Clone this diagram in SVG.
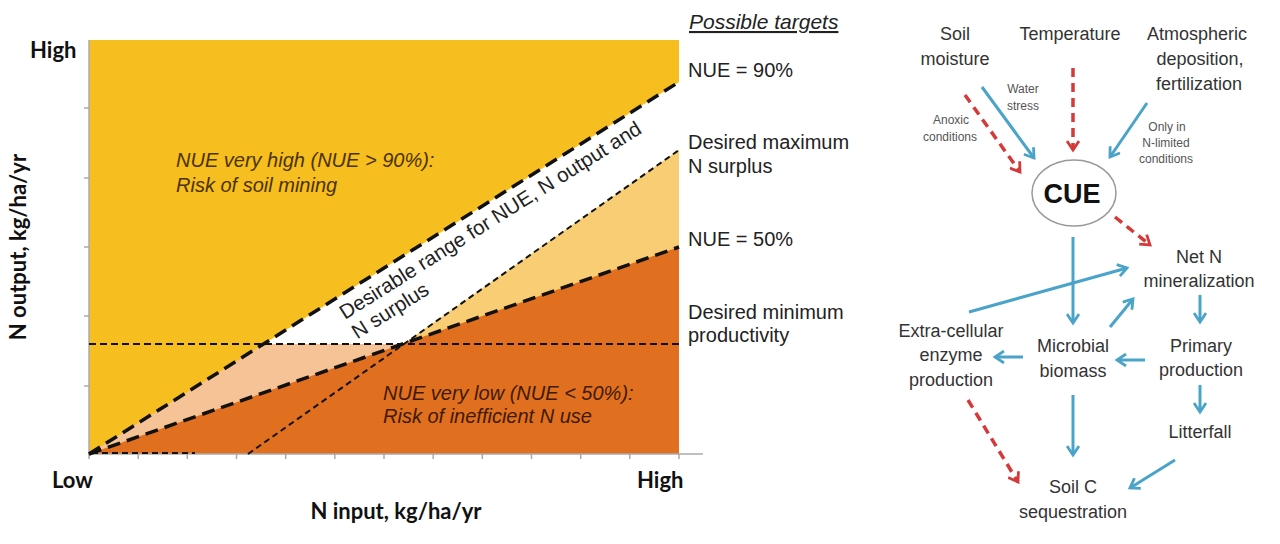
<svg xmlns="http://www.w3.org/2000/svg" width="1280" height="544" viewBox="0 0 1280 544">
<defs>
<style>
.ax{font-family:Lato,"Liberation Sans",sans-serif;font-weight:bold;font-size:22px;fill:#111}
.lab{font-family:"Liberation Sans",Arial,sans-serif;font-size:20px;fill:#222}
.zone{font-family:"Liberation Sans",Arial,sans-serif;font-size:20px;font-style:italic}
.nd{font-family:"Liberation Sans",Arial,sans-serif;font-size:18px;fill:#333;text-anchor:middle}
.sm{font-family:"Liberation Sans",Arial,sans-serif;font-size:12px;fill:#555;text-anchor:middle}
.thick{fill:none;stroke:#111;stroke-width:3.5;stroke-dasharray:13 7}
.thin{fill:none;stroke:#111;stroke-width:2;stroke-dasharray:6 4}
.blue{fill:none;stroke:#4aa3c8;stroke-width:3;marker-end:url(#ab)}
.red{fill:none;stroke:#d43a3a;stroke-width:3.5;stroke-dasharray:9 6;marker-end:url(#ar)}
.axis{stroke:#aaa;stroke-width:1.5;fill:none}
</style>
<marker id="ab" viewBox="0 0 14 14" refX="11" refY="7" markerWidth="14" markerHeight="14" markerUnits="userSpaceOnUse" orient="auto"><path d="M2,1 L11,7 L2,13" fill="none" stroke="#4aa3c8" stroke-width="2.8"/></marker>
<marker id="ar" viewBox="0 0 14 14" refX="11" refY="7" markerWidth="14" markerHeight="14" markerUnits="userSpaceOnUse" orient="auto"><path d="M2,1 L11,7 L2,13" fill="none" stroke="#d43a3a" stroke-width="2.8"/></marker>
</defs>
<rect width="1280" height="544" fill="#ffffff"/>

<g id="chart">
<rect x="89" y="40" width="590" height="414" fill="#f6be1e"/>
<polygon points="264,344 679,82 679,150 404,344" fill="#ffffff"/>
<polygon points="89,454 264,344 404,344" fill="#f5c396"/>
<polygon points="403,344 679,150 679,247" fill="#f8cd73"/>
<polygon points="89,454 679,247 679,454" fill="#e07020"/>
<g id="axes">
<path class="axis" d="M89,40 V454 H703"/>
<path class="axis" d="M84,108 H89 M84,178 H89 M84,247 H89 M84,316 H89 M84,386 H89"/>
<path class="axis" d="M89,454 v5 M138.2,454 v5 M187.3,454 v5 M236.5,454 v5 M285.7,454 v5 M334.8,454 v5 M384,454 v5 M433.2,454 v5 M482.3,454 v5 M531.5,454 v5 M580.7,454 v5 M629.8,454 v5 M679,454 v5"/>
</g>
<g id="lines">
<line class="thin" x1="248" y1="454" x2="679" y2="150"/>
<line class="thin" x1="89" y1="344" x2="679" y2="344" style="stroke-width:2.2;stroke-dasharray:7 4"/>
<line class="thin" x1="92" y1="453" x2="195" y2="453"/>
<line class="thick" x1="89" y1="454" x2="679" y2="82"/>
<line class="thick" x1="89" y1="454" x2="679" y2="247"/>
</g>
<text class="zone" x="176" y="167" fill="#4a3300">NUE very high (NUE &gt; 90%):</text>
<text class="zone" x="176" y="192" fill="#4a3300">Risk of soil mining</text>
<text class="zone" x="383" y="400" fill="#3f1a00">NUE very low (NUE &lt; 50%):</text>
<text class="zone" x="383" y="423" fill="#3f1a00">Risk of inefficient N use</text>
<g transform="translate(345,320) rotate(-32.2)">
<text class="lab" x="0" y="0" style="font-size:20.5px">Desirable range for NUE, N output and</text>
<text class="lab" x="0" y="23" style="font-size:20.5px">N surplus</text>
</g>
<text class="ax" x="30" y="58">High</text>
<text class="ax" x="52" y="488">Low</text>
<text class="ax" x="637" y="488">High</text>
<text class="ax" x="396" y="519" text-anchor="middle">N input, kg/ha/yr</text>
<text class="ax" transform="translate(26,247) rotate(-90)" text-anchor="middle">N output, kg/ha/yr</text>
<text class="lab" x="689" y="29" style="font-style:italic;font-size:21px;text-decoration:underline">Possible targets</text>
<text class="lab" x="688" y="77">NUE = 90%</text>
<text class="lab" x="688" y="149">Desired maximum</text>
<text class="lab" x="688" y="173">N surplus</text>
<text class="lab" x="688" y="246">NUE = 50%</text>
<text class="lab" x="688" y="319">Desired minimum</text>
<text class="lab" x="688" y="342">productivity</text>
</g>

<g id="connectors">
<line class="blue" x1="982" y1="87" x2="1034" y2="158"/>
<line class="red" x1="965" y1="95" x2="1020" y2="172"/>
<line class="red" x1="1073" y1="68" x2="1073" y2="150"/>
<line class="blue" x1="1147" y1="103" x2="1110" y2="157"/>
<line class="red" x1="1115" y1="217" x2="1150" y2="245"/>
<line class="blue" x1="1073" y1="237" x2="1073" y2="323"/>
<line class="blue" x1="969" y1="312" x2="1127" y2="268"/>
<line class="blue" x1="1110" y1="327" x2="1133" y2="299"/>
<line class="blue" x1="1200" y1="295" x2="1200" y2="322"/>
<line class="blue" x1="1145" y1="360" x2="1117" y2="360"/>
<line class="blue" x1="1023" y1="357" x2="995" y2="357"/>
<line class="blue" x1="1200" y1="385" x2="1200" y2="412"/>
<line class="blue" x1="1073" y1="395" x2="1073" y2="455"/>
<line class="blue" x1="1175" y1="460" x2="1130" y2="488"/>
<line class="red" x1="968" y1="400" x2="1018" y2="482"/>
<text class="sm" x="1023" y="93">Water</text>
<text class="sm" x="1023" y="110">stress</text>
<text class="sm" x="951" y="124">Anoxic</text>
<text class="sm" x="950" y="141">conditions</text>
<text class="sm" x="1167" y="131">Only in</text>
<text class="sm" x="1166" y="147">N-limited</text>
<text class="sm" x="1166" y="163">conditions</text>
</g>

<g id="soil-moisture"><text class="nd" x="955" y="40">Soil</text><text class="nd" x="955" y="65">moisture</text></g>
<g id="temperature"><text class="nd" x="1070" y="40">Temperature</text></g>
<g id="atmospheric"><text class="nd" x="1197" y="40">Atmospheric</text><text class="nd" x="1200" y="65">deposition,</text><text class="nd" x="1199" y="90">fertilization</text></g>
<g id="cue"><ellipse cx="1074" cy="193" rx="42" ry="33" fill="#fff" stroke="#999" stroke-width="1.5"/><text x="1072" y="203" text-anchor="middle" style="font-family:'Liberation Sans',Arial,sans-serif;font-weight:bold;font-size:27px;fill:#111">CUE</text></g>
<g id="net-n"><text class="nd" x="1199" y="263">Net N</text><text class="nd" x="1199" y="287">mineralization</text></g>
<g id="extra-cellular"><text class="nd" x="951" y="337">Extra-cellular</text><text class="nd" x="951" y="361">enzyme</text><text class="nd" x="951" y="386">production</text></g>
<g id="microbial"><text class="nd" x="1073" y="352">Microbial</text><text class="nd" x="1073" y="377">biomass</text></g>
<g id="primary"><text class="nd" x="1201" y="352">Primary</text><text class="nd" x="1201" y="376">production</text></g>
<g id="litterfall"><text class="nd" x="1200" y="438">Litterfall</text></g>
<g id="soil-c"><text class="nd" x="1073" y="493">Soil C</text><text class="nd" x="1073" y="518">sequestration</text></g>
</svg>
